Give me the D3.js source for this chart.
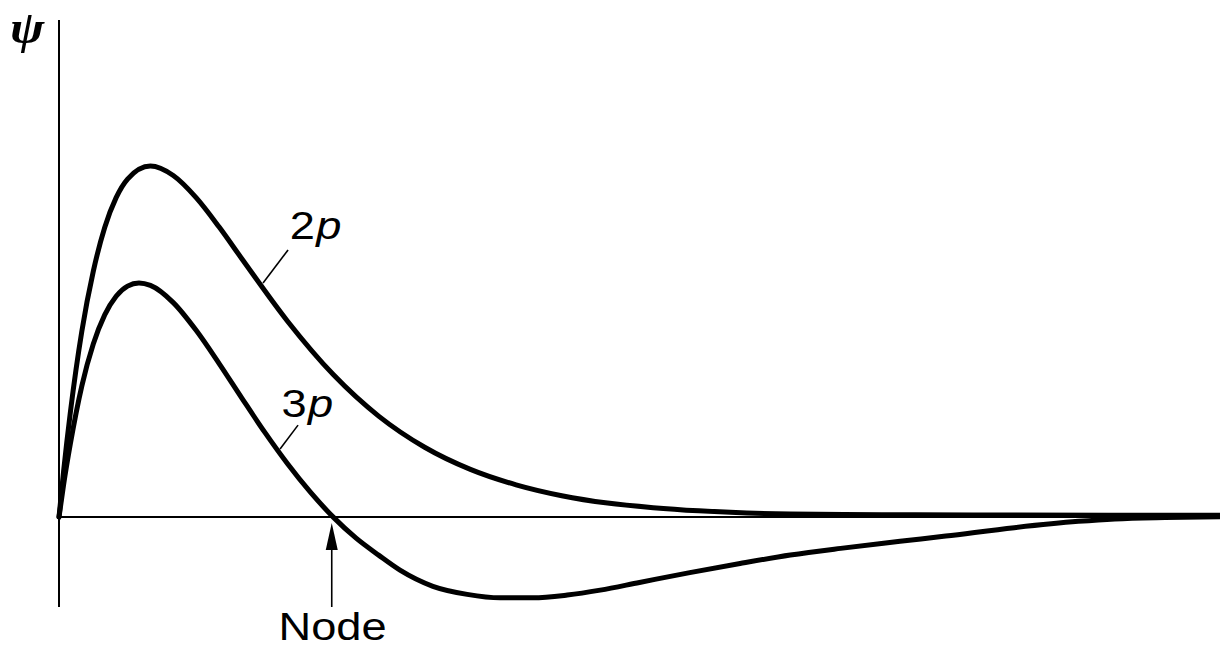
<!DOCTYPE html>
<html>
<head>
<meta charset="utf-8">
<script src="https://cdn.jsdelivr.net/npm/d3@7"></script>
<style>
  html, body { margin: 0; padding: 0; background: #fff; }
  svg { display: block; }
</style>
</head>
<body>
<div id="chart"></div>
<script>
// Radial distance (arbitrary units) and wavefunction values
const r2p   = [0, 0.1, 0.25, 0.5, 0.75, 1.0, 1.25, 1.5, 2.0, 2.5, 3.0, 3.5, 4.0, 5.0, 6.0, 7.0, 8.0, 9.0, 10.0, 11.0, 12.0, 13.0, 14.0, 16.0, 18.0, 20.0, 25.4];
const psi2p = [0, 0.13, 0.30, 0.53, 0.70, 0.825, 0.91, 0.963, 1.0, 0.973, 0.91, 0.827, 0.736, 0.558, 0.406, 0.287, 0.199, 0.136, 0.092, 0.061, 0.040, 0.027, 0.018, 0.009, 0.007, 0.006, 0.005];

const r3p   = [0, 0.1, 0.25, 0.5, 0.75, 1.0, 1.25, 1.5, 1.75, 2.0, 2.5, 3.0, 3.5, 4.0, 4.5, 5.0, 5.5, 6.0, 6.5, 7.0, 7.46, 8.18, 8.93, 9.65, 10.37, 11.12, 11.84, 12.7, 13.8, 14.9, 16.0, 17.1, 18.4, 19.4, 20.9, 22.3, 23.1, 24.2, 25.4];
const psi3p = [0, 0.092, 0.21, 0.374, 0.493, 0.576, 0.629, 0.658, 0.667, 0.660, 0.611, 0.532, 0.438, 0.339, 0.242, 0.152, 0.071, 0, -0.060, -0.109, -0.151, -0.197, -0.220, -0.230, -0.230, -0.222, -0.208, -0.186, -0.158, -0.132, -0.108, -0.089, -0.069, -0.054, -0.030, -0.012, -0.005, -0.001, 0.001];

const seriesNames = ["2p", "3p"];
const nodeLabel = "Node";
const axisLabel = "\u03C8";

const W = 1220, H = 650;
const svg = d3.select("#chart").append("svg").attr("width", W).attr("height", H);

const x = d3.scaleLinear().domain([0, 25.4]).range([59, 1220]);
const y = d3.scaleLinear().domain([-0.256, 1.416]).range([607, 20]);

// axes
svg.append("line")
  .attr("x1", x(0)).attr("x2", x(0))
  .attr("y1", y(-0.256)).attr("y2", y(1.416))
  .attr("stroke", "#000").attr("stroke-width", 2);
svg.append("line")
  .attr("x1", x(0)).attr("x2", x(25.4))
  .attr("y1", y(0)).attr("y2", y(0))
  .attr("stroke", "#000").attr("stroke-width", 2);

svg.append("text")
  .attr("transform", "translate(10,43) scale(1.12,1)")
  .attr("font-family", "'Liberation Serif', 'DejaVu Serif', serif")
  .attr("font-style", "italic")
  .attr("font-weight", "bold")
  .attr("font-size", 46)
  .text(axisLabel);

const line = d3.line()
  .x(d => x(d[0])).y(d => y(d[1]))
  .curve(d3.curveMonotoneX);

const d2 = r2p.map((r, i) => [r, psi2p[i]]);
const d3p = r3p.map((r, i) => [r, psi3p[i]]);

[d2, d3p].forEach(d => {
  svg.append("path")
    .attr("d", line(d))
    .attr("fill", "none")
    .attr("stroke", "#000")
    .attr("stroke-width", 5)
    .attr("stroke-linejoin", "round")
    .attr("stroke-linecap", "round");
});

// curve labels with leader lines
const labels = [
  { name: seriesNames[0], from: [4.464, 0.667], to: [5.011, 0.761], pos: [5.05, 0.792] },
  { name: seriesNames[1], from: [4.836, 0.194], to: [5.230, 0.262], pos: [4.87, 0.285] }
];
labels.forEach(l => {
  svg.append("line")
    .attr("x1", x(l.from[0])).attr("y1", y(l.from[1]))
    .attr("x2", x(l.to[0])).attr("y2", y(l.to[1]))
    .attr("stroke", "#000").attr("stroke-width", 1.6);
  const t = svg.append("text")
    .attr("transform", `translate(${x(l.pos[0])},${y(l.pos[1])}) scale(1.19,1)`)
    .attr("font-family", "'Liberation Sans', Arial, sans-serif")
    .attr("font-size", 38);
  t.append("tspan").text(l.name[0]);
  t.append("tspan").attr("font-style", "italic").attr("dx", 1).text(l.name.slice(1));
});

// node arrow
const nodeR = 5.967;
const tipY = y(-0.017);
svg.append("line")
  .attr("x1", x(nodeR)).attr("x2", x(nodeR))
  .attr("y1", y(-0.256)).attr("y2", tipY + 20)
  .attr("stroke", "#000").attr("stroke-width", 1.6);
svg.append("path")
  .attr("d", `M${x(nodeR) - 6},${tipY + 27} L${x(nodeR)},${tipY} L${x(nodeR) + 6},${tipY + 27} Z`)
  .attr("fill", "#000");

svg.append("text")
  .attr("transform", `translate(${x(5.985)},${y(-0.349)}) scale(1.19,1)`)
  .attr("text-anchor", "middle")
  .attr("font-family", "'Liberation Sans', Arial, sans-serif")
  .attr("font-size", 38)
  .text(nodeLabel);
</script>
</body>
</html>
